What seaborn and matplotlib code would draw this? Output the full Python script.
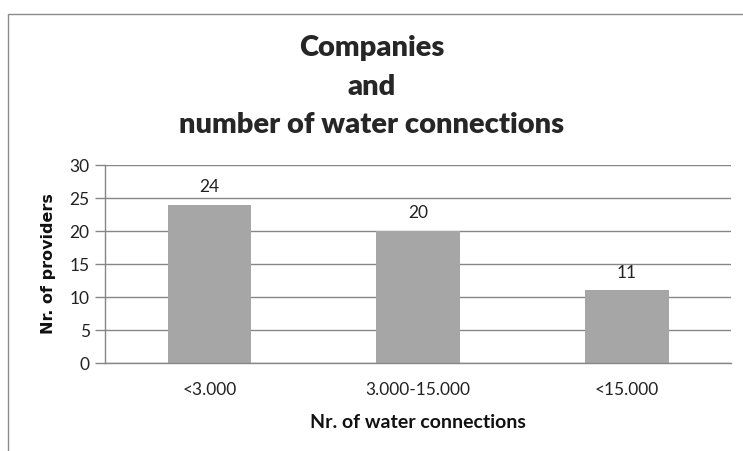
import matplotlib
matplotlib.use("Agg")
import matplotlib.pyplot as plt
import numpy as np
import pandas as pd
import seaborn as sns
from matplotlib.patches import Rectangle

# Chart data
categories = ["<3.000", "3.000-15.000", "<15.000"]
providers = [24, 20, 11]
y_ticks = [0, 5, 10, 15, 20, 25, 30]

df = pd.DataFrame({"connections": categories, "providers": providers})

sns.set_style("white")
plt.rcParams["font.family"] = ["Lato", "DejaVu Sans"]

fig = plt.figure(figsize=(7.43, 4.51), dpi=100)
ax = fig.add_axes([0.1413, 0.1951, 0.843, 0.439])

sns.barplot(data=df, x="connections", y="providers", color="#A6A6A6",
            width=0.4, saturation=1, linewidth=0, ax=ax)

# Gridlines and axes
ax.set_ylim(0, 30)
ax.set_yticks(y_ticks)
ax.yaxis.grid(True, color="#868686", linewidth=1)
ax.set_axisbelow(True)
for side in ["top", "right"]:
    ax.spines[side].set_visible(False)
for side in ["left", "bottom"]:
    ax.spines[side].set_color("#868686")
    ax.spines[side].set_linewidth(1)
ax.tick_params(axis="y", length=7, width=1, color="#868686", labelsize=12.5,
               labelcolor="#222222", pad=4, left=True)
ax.tick_params(axis="x", length=0, labelsize=12.5, labelcolor="#222222", pad=14)

# Value labels
for i, v in enumerate(providers):
    ax.text(i, v + 1.5, str(v), ha="center", va="bottom", fontsize=12.5,
            color="#222222")

ax.set_xlabel("Nr. of water connections", fontsize=14, fontweight="bold",
              labelpad=11, color="#111111")
ax.set_ylabel("Nr. of providers", fontsize=11.5, fontweight="bold",
              family="DejaVu Sans", labelpad=10, color="#111111")

for y, line in [(0.893, "Companies"), (0.808, "and"),
                (0.722, "number of water connections")]:
    fig.text(0.5, y, line, ha="center", va="center", fontsize=21,
             fontweight="heavy")

# Chart border (cropped at the right and bottom)
fig.patches.append(Rectangle((8 / 743, -0.2), 1.2, 1.2 - 14 / 451,
                             transform=fig.transFigure, fill=False,
                             edgecolor="#8a8a8a", linewidth=1))

fig.savefig("out.png", dpi=100)
